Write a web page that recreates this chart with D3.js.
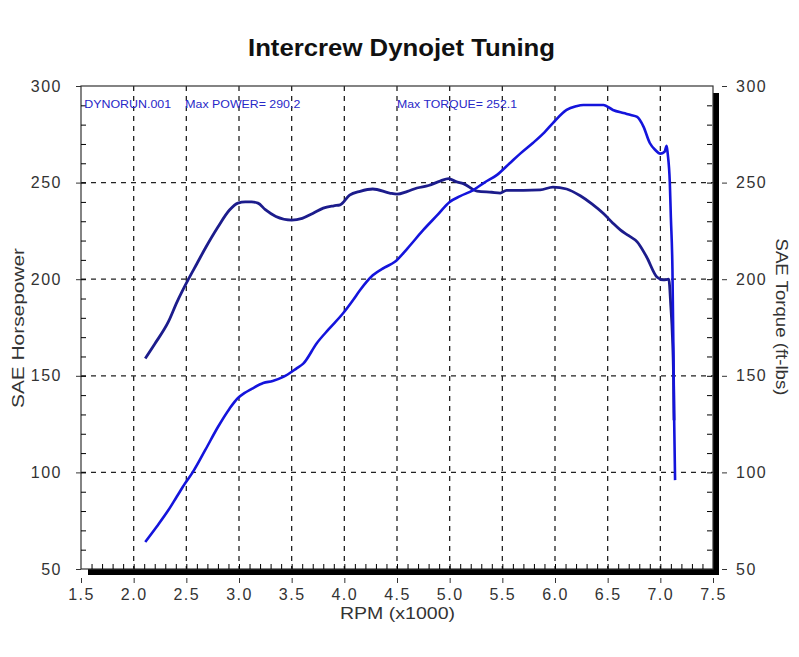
<!DOCTYPE html>
<html>
<head>
<meta charset="utf-8">
<script src="https://cdn.jsdelivr.net/npm/d3@7"></script>
<style>
  body { margin: 0; background: #fff; }
  text { font-family: Arial, "Liberation Sans", sans-serif; }
</style>
</head>
<body>
<svg id="chart" width="799" height="657"></svg>
<script>
// values
const rpmTicks = [1.5, 2.0, 2.5, 3.0, 3.5, 4.0, 4.5, 5.0, 5.5, 6.0, 6.5, 7.0, 7.5];
const valueTicks = [50, 100, 150, 200, 250, 300];

const torqueRpm = [2.11, 2.2, 2.33, 2.41, 2.52, 2.6, 2.68, 2.8, 2.91, 2.99, 3.06, 3.12, 3.18, 3.25, 3.35, 3.5, 3.6, 3.7, 3.8,
  3.9, 3.96, 4.05, 4.15, 4.27, 4.43, 4.5, 4.6, 4.69, 4.8, 4.91, 4.99, 5.06, 5.13, 5.26, 5.4, 5.48, 5.54, 5.7,
  5.86, 5.98, 6.11, 6.24, 6.35, 6.46, 6.55, 6.62, 6.7, 6.78, 6.87, 6.97, 7.03, 7.08, 7.1, 7.115, 7.125, 7.13];
const torqueVal = [159, 166.5, 178, 188, 200, 208, 216, 227, 235.8, 239.4, 240, 240, 239.4, 236, 232.5, 230.6, 231.5, 234, 236.8,
  238, 238.5, 243.5, 245.5, 246.7, 244.6, 244, 245.5, 247.2, 248.5, 250.8, 252.1, 250.5, 249.5, 245.6, 245, 244.6, 246, 246,
  246.2, 247.7, 246.7, 243.2, 239, 234, 229, 225.5, 222.5, 219.3, 211.5, 201, 199.6, 200, 185.6, 170, 150, 127];

const powerRpm = [2.11, 2.22, 2.33, 2.41, 2.49, 2.56, 2.68, 2.8, 2.91, 2.99, 3.05, 3.12, 3.23, 3.32, 3.42, 3.55, 3.61,
  3.74, 3.85, 3.99, 4.08, 4.15, 4.27, 4.38, 4.48, 4.6, 4.75, 4.88, 5.0, 5.1, 5.22, 5.33, 5.45, 5.57, 5.67, 5.79,
  5.9, 5.98, 6.11, 6.2, 6.27, 6.37, 6.46, 6.55, 6.65, 6.72, 6.78, 6.84, 6.9, 6.95, 7.0, 7.04, 7.06, 7.07, 7.09,
  7.1, 7.115, 7.125, 7.13, 7.14];
const powerVal = [64, 72, 80.5, 87.5, 94.5, 100, 111.6, 123.5, 133, 138.5, 141, 143.2, 146.3, 147.3, 149.4, 154, 156.3,
  167, 174, 182.5, 189, 194.4, 202, 206, 209, 216, 225.5, 233, 240, 243, 246, 250, 254, 260, 265, 270.5,
  276, 280.8, 287.6, 289.5, 290.2, 290.2, 290.2, 287.6, 286, 285, 284, 279, 270.5, 267, 265, 266, 269, 265, 250,
  232, 205, 160, 132, 96];

const svg = d3.select("#chart");
const margin = {top: 86, right: 86, bottom: 88, left: 81};
const width = 799 - margin.left - margin.right;
const height = 657 - margin.top - margin.bottom;

const x = d3.scaleLinear().domain([1.5, 7.5]).range([0, width]);
const y = d3.scaleLinear().domain([50, 300]).range([height, 0]);

const g = svg.append("g").attr("transform", "translate(" + margin.left + "," + margin.top + ")");

// title and axis captions (the sheet's font is wider than Arial, so stretch to fit)
svg.append("text").text("Intercrew Dynojet Tuning")
  .attr("x", 248).attr("y", 56)
  .attr("textLength", 307).attr("lengthAdjust", "spacingAndGlyphs")
  .attr("font-size", 23).attr("font-weight", "bold").attr("fill", "#111");
svg.append("text").text("RPM (x1000)")
  .attr("x", 340).attr("y", 619)
  .attr("textLength", 115).attr("lengthAdjust", "spacingAndGlyphs")
  .attr("font-size", 16).attr("fill", "#333");
svg.append("text").text("SAE Horsepower")
  .attr("text-anchor", "middle").attr("font-size", 16.5).attr("fill", "#333")
  .attr("textLength", 160).attr("lengthAdjust", "spacingAndGlyphs")
  .attr("transform", "translate(24,328) rotate(-90)");
svg.append("text").text("SAE Torque (ft-lbs)")
  .attr("text-anchor", "middle").attr("font-size", 16.5).attr("fill", "#333")
  .attr("textLength", 157).attr("lengthAdjust", "spacingAndGlyphs")
  .attr("transform", "translate(776,317) rotate(90)");

// dashed grid
g.append("g").selectAll("line")
  .data(rpmTicks.slice(1, -1))
  .join("line")
    .attr("x1", d => x(d)).attr("x2", d => x(d))
    .attr("y1", 0).attr("y2", height)
    .attr("stroke", "#222").attr("stroke-width", 1.3).attr("stroke-dasharray", "5,5");
g.append("g").selectAll("line")
  .data(valueTicks.slice(1, -1))
  .join("line")
    .attr("x1", 0).attr("x2", width)
    .attr("y1", d => y(d)).attr("y2", d => y(d))
    .attr("stroke", "#222").attr("stroke-width", 1.3).attr("stroke-dasharray", "5,5");

// shadow bars on bottom and right
g.append("rect").attr("x", 7).attr("y", height).attr("width", width - 1).attr("height", 6).attr("fill", "#000");
g.append("rect").attr("x", width).attr("y", 7).attr("width", 6).attr("height", height - 1).attr("fill", "#000");

// frame
g.append("rect").attr("width", width).attr("height", height)
  .attr("fill", "none").attr("stroke", "#333").attr("stroke-width", 1.2);

// minor ticks (inside)
const minorV = d3.range(60, 300, 10);
const minorX = d3.range(15, 75).map(d => d / 10);
g.append("g").call(d3.axisLeft(y).tickValues(minorV).tickSize(-5).tickFormat(""))
  .call(s => s.select(".domain").remove());
g.append("g").attr("transform", "translate(" + (width - 1) + ",0)")
  .call(d3.axisRight(y).tickValues(minorV).tickSize(-5).tickFormat(""))
  .call(s => s.select(".domain").remove());
g.append("g").attr("transform", "translate(0," + height + ")")
  .call(d3.axisBottom(x).tickValues(minorX.slice(1)).tickSize(-5).tickFormat(""))
  .call(s => s.select(".domain").remove());

// major axes
const leftAxis = g.append("g")
  .call(d3.axisLeft(y).tickValues(valueTicks).tickSize(5).tickPadding(14).tickFormat(d3.format("d")));
const rightAxis = g.append("g").attr("transform", "translate(" + (width + 9) + ",0)")
  .call(d3.axisRight(y).tickValues(valueTicks).tickSize(5).tickPadding(9).tickFormat(d3.format("d")));
const bottomAxis = g.append("g").attr("transform", "translate(0," + (height + 9) + ")")
  .call(d3.axisBottom(x).tickValues(rpmTicks).tickSize(5).tickPadding(6).tickFormat(d3.format(".1f")));
[leftAxis, rightAxis, bottomAxis].forEach(a => {
  a.select(".domain").remove();
  a.selectAll("text").attr("font-size", 16).attr("fill", "#333").attr("letter-spacing", 1.5);
  a.selectAll("line").attr("stroke", "#333");
});

// annotations
const note = (txt, rpm, len) => g.append("text").text(txt)
  .attr("x", x(rpm)).attr("y", 22)
  .attr("textLength", len).attr("lengthAdjust", "spacingAndGlyphs")
  .attr("font-size", 11.5).attr("fill", "#2828c8");
note("DYNORUN.001", 1.53, 87);
note("Max POWER= 290.2", 2.49, 115);
note("Max TORQUE= 252.1", 4.5, 120);

// curves
const line = d3.line().curve(d3.curveMonotoneX).x(d => x(d[0])).y(d => y(d[1]));
g.append("path").datum(d3.zip(torqueRpm, torqueVal))
  .attr("d", line).attr("fill", "none").attr("stroke", "#1c1c8c").attr("stroke-width", 2.8)
  .attr("stroke-linejoin", "round");
g.append("path").datum(d3.zip(powerRpm, powerVal))
  .attr("d", line).attr("fill", "none").attr("stroke", "#1414dc").attr("stroke-width", 2.6)
  .attr("stroke-linejoin", "round");
</script>
</body>
</html>
